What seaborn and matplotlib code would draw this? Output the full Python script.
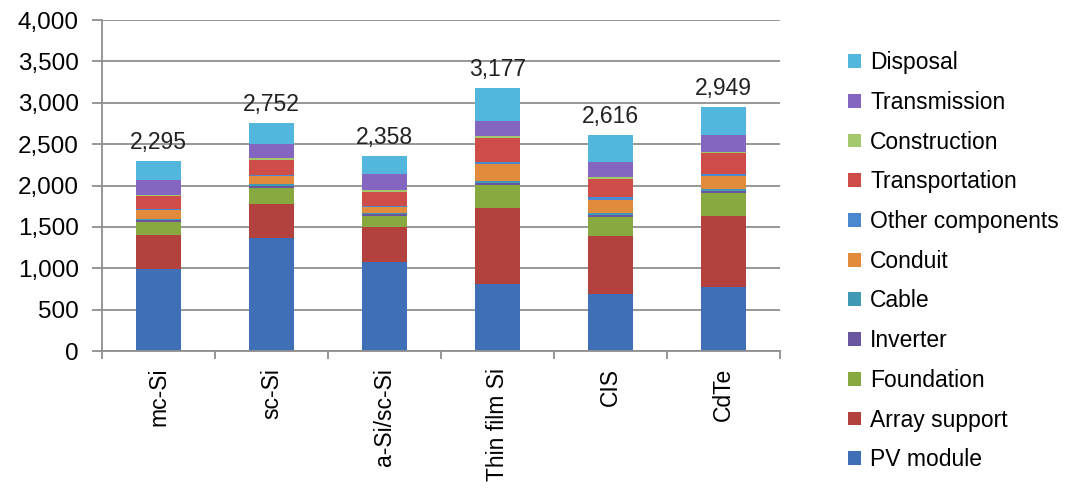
import numpy as np
import pandas as pd
import seaborn as sns
from matplotlib import pyplot as plt
from matplotlib.ticker import FuncFormatter, FixedLocator

# categories and stacked components (bottom -> top)
cats = ["mc-Si", "sc-Si", "a-Si/sc-Si", "Thin film Si", "CIS", "CdTe"]
totals = [2295, 2752, 2358, 3177, 2616, 2949]

pv_module      = [990, 1370, 1080, 810, 685, 770]
array_support  = [410, 410, 415, 915, 705, 860]
foundation     = [160, 190, 140, 280, 232, 280]
inverter       = [20, 20, 15, 20, 20, 20]
cable          = [15, 30, 20, 25, 28, 30]
conduit        = [115, 100, 70, 215, 160, 160]
other_comp     = [12, 10, 15, 15, 30, 15]
transportation = [150, 175, 165, 290, 220, 255]
construction   = [18, 30, 25, 30, 25, 20]
transmission   = [175, 170, 200, 180, 180, 200]
disposal       = [230, 247, 213, 397, 331, 339]

layers = ["PV module", "Array support", "Foundation", "Inverter", "Cable", "Conduit",
          "Other components", "Transportation", "Construction", "Transmission", "Disposal"]
values = [pv_module, array_support, foundation, inverter, cable, conduit,
          other_comp, transportation, construction, transmission, disposal]
colors = ["#3f70b7", "#b3413d", "#87a93f", "#6a55a0", "#3f9ab6", "#e38b3c",
          "#4a88d0", "#cf4d49", "#a6c86c", "#8466c0", "#53b6dd"]

df = pd.DataFrame(dict(zip(layers, values)), index=cats)
cum = df.cumsum(axis=1)

plt.rcParams['font.family'] = ['Liberation Sans', 'DejaVu Sans']
fig = plt.figure(figsize=(10.88, 5.01), dpi=100)
ax = fig.add_axes([0.094, 0.2994, 0.623, 0.6606])

grid_c = "#8f8f8f"
ax.set_axisbelow(True)
ax.yaxis.grid(True, color=grid_c, lw=1.3)

# draw cumulative heights from the top layer down so lower layers cover them
for name, c in zip(layers[::-1], colors[::-1]):
    sns.barplot(x=cats, y=cum[name].values, color=c, width=0.4, linewidth=0,
                saturation=1, label=name, ax=ax)

ax.bar_label(ax.containers[0], labels=[f"{t:,}" for t in totals],
             padding=5, fontsize=16.5, color="#222222")

ax.set_ylim(0, 4000)
ax.set_yticks(np.arange(0, 4001, 500))
ax.yaxis.set_major_formatter(FuncFormatter(lambda v, p: f"{v:,.0f}"))
ax.set_xlim(-0.5, len(cats) - 0.5)
ax.xaxis.set_minor_locator(FixedLocator(np.arange(-0.5, len(cats), 1)))
ax.tick_params(axis='x', which='major', length=0, labelsize=16.5, rotation=90, pad=12)
ax.tick_params(axis='x', which='minor', length=6, color=grid_c, width=1.3)
ax.tick_params(axis='y', length=7, color=grid_c, width=1.3, labelsize=17.5, pad=10)
for s in ["top", "right"]:
    ax.spines[s].set_visible(False)
for s in ["left", "bottom"]:
    ax.spines[s].set_color(grid_c)
    ax.spines[s].set_linewidth(1.3)
ax.set_xlabel("")
ax.set_ylabel("")

handles, labels = ax.get_legend_handles_labels()
if ax.get_legend() is not None:
    ax.get_legend().remove()
fig.legend(handles, labels, loc="upper left", bbox_to_anchor=(0.765, 0.93),
           frameon=False, fontsize=16.5, handlelength=0.55, handleheight=0.55,
           handletextpad=0.4, labelspacing=0.73, borderpad=0.2)

fig.savefig("out.png", dpi=100, facecolor="white")
